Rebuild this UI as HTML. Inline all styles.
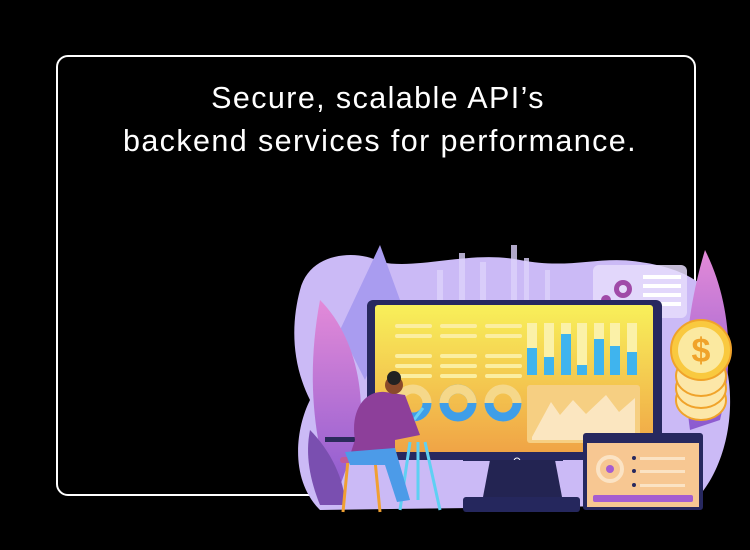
<!DOCTYPE html>
<html><head><meta charset="utf-8"><style>
html,body{margin:0;padding:0;background:#000;width:750px;height:550px;overflow:hidden;position:relative}
.box{position:absolute;left:56px;top:55px;width:636px;height:437px;border:2px solid #fff;border-radius:12px}
.t{position:absolute;left:0;width:750px;text-align:center;color:#fff;font-family:"Liberation Sans",sans-serif;font-size:30.5px;letter-spacing:1.4px}
svg{position:absolute;left:0;top:0}
</style></head><body>
<div class="box"></div>
<div class="t" style="top:81px;left:3px">Secure, scalable API’s</div>
<div class="t" style="top:124px;left:5px">backend services for performance.</div>
<svg width="750" height="550" viewBox="0 0 750 550">
<defs>
<linearGradient id="scr" x1="0" y1="0" x2="0" y2="1"><stop offset="0" stop-color="#f8f05a"/><stop offset="1" stop-color="#f0a446"/></linearGradient>
<linearGradient id="leaf" x1="0" y1="0" x2="0" y2="1"><stop offset="0" stop-color="#e38ad8"/><stop offset="1" stop-color="#8a5ad0"/></linearGradient>
</defs>
<path d="M300 290 C310 250 360 250 380 262 C420 270 470 250 520 260 C570 270 600 255 640 262 C700 270 735 300 725 360 C740 420 720 480 690 505 L320 510 C290 480 295 430 310 400 C290 360 292 320 300 290Z" fill="#cbbaf6"/>
<path d="M380 245 L400 300 L365 380 L340 330Z" fill="#a99cf0"/>
<path d="M320 300 C350 330 365 380 360 430 L335 500 C315 450 305 380 320 300Z" fill="url(#leaf)"/>
<path d="M705 250 C730 300 735 360 720 420 L690 430 C680 360 690 300 705 250Z" fill="url(#leaf)"/>
<path d="M310 430 C330 450 345 480 345 505 L320 505 C310 480 305 455 310 430Z" fill="#7a4fb0"/>
<g fill="#ddd2fb" opacity="0.8">
<rect x="437" y="270" width="6" height="30"/><rect x="459" y="253" width="6" height="47"/><rect x="480" y="262" width="6" height="38"/><rect x="511" y="245" width="6" height="55"/><rect x="524" y="258" width="5" height="42"/><rect x="545" y="270" width="5" height="30"/>
</g>
<rect x="593" y="265" width="94" height="53" rx="6" fill="#e6dcfb" opacity="0.85"/>
<g fill="#fff"><rect x="643" y="275" width="38" height="4"/><rect x="643" y="284" width="38" height="4"/><rect x="643" y="293" width="38" height="4"/><rect x="643" y="302" width="38" height="4"/></g>
<circle cx="623" cy="289" r="9" fill="#a04aa8"/><circle cx="623" cy="289" r="4" fill="#e6dcfb"/>
<circle cx="606" cy="300" r="5" fill="#a04aa8"/>
<rect x="367" y="300" width="295" height="160" rx="6" fill="#27285f"/>
<rect x="375" y="305" width="278" height="147" rx="3" fill="url(#scr)"/>
<g fill="#fbeea0">
<rect x="395" y="324" width="37" height="4" rx="2"/><rect x="440" y="324" width="37" height="4" rx="2"/><rect x="485" y="324" width="37" height="4" rx="2"/>
<rect x="395" y="334" width="37" height="4" rx="2"/><rect x="440" y="334" width="37" height="4" rx="2"/><rect x="485" y="334" width="37" height="4" rx="2"/>
<rect x="395" y="354" width="37" height="4" rx="2"/><rect x="440" y="354" width="37" height="4" rx="2"/><rect x="485" y="354" width="37" height="4" rx="2"/>
<rect x="395" y="364" width="37" height="4" rx="2"/><rect x="440" y="364" width="37" height="4" rx="2"/><rect x="485" y="364" width="37" height="4" rx="2"/>
<rect x="395" y="374" width="37" height="4" rx="2"/><rect x="440" y="374" width="37" height="4" rx="2"/><rect x="485" y="374" width="37" height="4" rx="2"/>
</g>
<g fill="#fbf1a8"><rect x="527" y="323" width="10" height="52"/><rect x="544" y="323" width="10" height="52"/><rect x="561" y="323" width="10" height="52"/><rect x="577" y="323" width="10" height="52"/><rect x="594" y="323" width="10" height="52"/><rect x="610" y="323" width="10" height="52"/><rect x="627" y="323" width="10" height="52"/></g>
<g fill="#3fb4ee"><rect x="527" y="348" width="10" height="27"/><rect x="544" y="357" width="10" height="18"/><rect x="561" y="334" width="10" height="41"/><rect x="577" y="365" width="10" height="10"/><rect x="594" y="339" width="10" height="36"/><rect x="610" y="346" width="10" height="29"/><rect x="627" y="352" width="10" height="23"/></g>
<g fill="none" stroke-width="9">
<circle cx="413" cy="403" r="14" stroke="#f5d88a"/><path d="M399 403 A14 14 0 0 0 427 403" stroke="#3f9ee8"/>
<circle cx="458" cy="403" r="14" stroke="#3f9ee8"/><path d="M444 403 A14 14 0 0 1 472 403" stroke="#f5d88a"/>
<circle cx="503" cy="403" r="14" stroke="#f5d88a"/><path d="M489 403 A14 14 0 0 0 517 403" stroke="#3f9ee8"/>
</g>
<rect x="527" y="385" width="113" height="58" rx="3" fill="#f6cf82"/>
<path d="M532 437 L551 402 L560 415 L573 400 L586 414 L606 395 L619 412 L635 398 L635 440 L532 440Z" fill="#fbe6c0"/>
<rect x="463" y="458" width="100" height="3" fill="#27285f"/>
<circle cx="517" cy="461" r="3" fill="none" stroke="#fff" stroke-width="1"/>
<path d="M490 460 L555 460 L562 497 L483 497Z" fill="#232452"/>
<rect x="463" y="497" width="117" height="15" rx="3" fill="#25275d"/>
<rect x="583" y="433" width="120" height="77" rx="3" fill="#27285f"/>
<rect x="587" y="443" width="112" height="64" fill="#f7c792"/>
<circle cx="610" cy="469" r="12" fill="none" stroke="#fbe3c4" stroke-width="4"/>
<circle cx="610" cy="469" r="4" fill="#a55dd0"/>
<g fill="#27285f"><circle cx="634" cy="458" r="2"/><circle cx="634" cy="471" r="2"/><circle cx="634" cy="485" r="2"/></g>
<g fill="#fbe3c4"><rect x="640" y="457" width="45" height="3"/><rect x="640" y="470" width="45" height="3"/><rect x="640" y="484" width="45" height="3"/></g>
<rect x="593" y="495" width="100" height="7" rx="2" fill="#a55dd0"/>
<g stroke="#f0a32a" stroke-width="2" fill="#fce7a8">
<ellipse cx="701" cy="400" rx="25" ry="20"/><ellipse cx="701" cy="388" rx="25" ry="20"/><ellipse cx="701" cy="376" rx="25" ry="20"/>
<circle cx="701" cy="350" r="30" fill="#f9c93f"/>
</g>
<circle cx="701" cy="350" r="23" fill="#fbe9a0"/>
<text x="701" y="362" text-anchor="middle" font-family="Liberation Sans,sans-serif" font-size="34" font-weight="bold" fill="#f0a32a">$</text>
<rect x="325" y="437" width="60" height="5" fill="#2b2a5c"/>
<path d="M400 438 L423 408" stroke="#6ad0f5" stroke-width="3"/>
<path d="M410 442 L400 510 M425 442 L440 510 M418 442 L418 500" stroke="#5fd0f3" stroke-width="3"/>
<path d="M348 460 L343 512 M375 460 L380 512" stroke="#f0a032" stroke-width="3"/>
<rect x="340" y="457" width="40" height="6" rx="3" fill="#c25a98"/>
<path d="M355 440 C350 410 365 390 385 392 L405 395 L420 435 L395 440 L395 455 L350 455Z" fill="#8d3f9a"/>
<path d="M345 452 L395 448 L410 500 L397 502 L385 465 L350 465Z" fill="#4c9be8"/>
<circle cx="394" cy="385" r="9" fill="#8a4a2a"/>
<circle cx="394" cy="378" r="7" fill="#222"/>
</svg>
</body></html>
